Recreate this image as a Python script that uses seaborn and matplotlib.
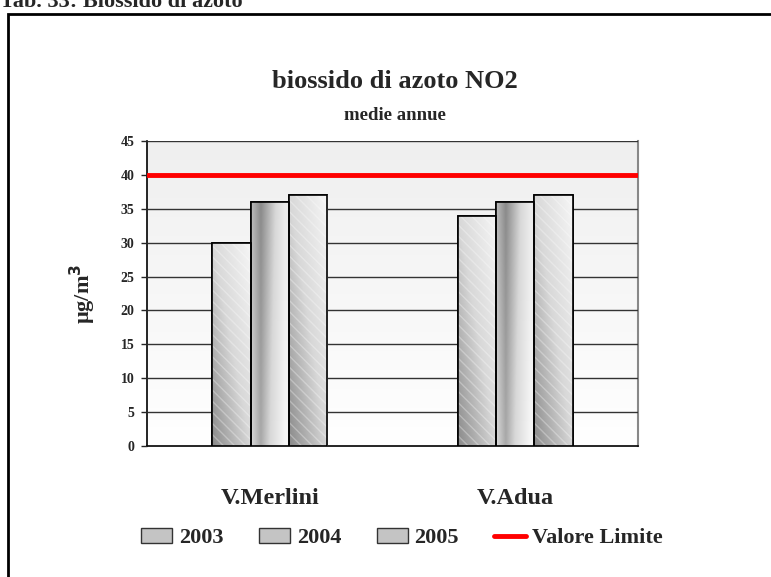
import matplotlib
matplotlib.use("Agg")
import matplotlib.pyplot as plt
from matplotlib.patches import Patch, Rectangle
from matplotlib.lines import Line2D
import numpy as np
import pandas as pd
import seaborn as sns

# Dati
stazioni = ["V.Merlini", "V.Adua"]
anni = ["2003", "2004", "2005"]
valori_2003 = [30, 34]
valori_2004 = [36, 36]
valori_2005 = [37, 37]
valore_limite = 40
yticks = list(range(0, 50, 5))

righe = []
for anno, valori in zip(anni, [valori_2003, valori_2004, valori_2005]):
    for stazione, v in zip(stazioni, valori):
        righe.append({"stazione": stazione, "anno": anno, "valore": v})
df = pd.DataFrame(righe)

sns.set_style("white")
plt.rcParams["font.family"] = ["Liberation Serif", "DejaVu Serif"]
plt.rcParams["font.weight"] = "bold"

fig = plt.figure(figsize=(7.71, 5.77), dpi=100)
ax = fig.add_axes([147 / 771, 1 - 446 / 577, 491 / 771, 305 / 577])

# sfondo sfumato dell'area del grafico
grad = np.linspace(0, 1, 256).reshape(-1, 1)
ax.imshow(grad, cmap=matplotlib.colors.LinearSegmentedColormap.from_list(
    "bg", ["#ffffff", "#efefef"]), extent=[-0.5, 1.5, 0, 45],
    aspect="auto", origin="lower", zorder=0)

sns.barplot(data=df, x="stazione", y="valore", hue="anno", order=stazioni,
            hue_order=anni, width=0.47, palette=["#c0c0c0"] * 3,
            edgecolor="black", linewidth=1.2, ax=ax, legend=False, zorder=3)

# sfumature delle barre
cmap_bar = matplotlib.colors.LinearSegmentedColormap.from_list(
    "bar", ["#8a8a8a", "#d8d8d8", "#f6f6f6"])
yy, xx = np.mgrid[0:1:100j, 0:1:100j]
sfumature = {
    0: (xx + (1 - yy)) / 2,
    1: np.clip(np.abs(xx - 0.25) * 1.6, 0, 1) * 0.8 + 0.2 * yy,
    2: (xx + (1 - yy)) / 2,
}
bars = [p for p in ax.patches if isinstance(p, Rectangle) and p.get_height() > 0]
for i, p in enumerate(bars):
    k = i // len(stazioni)
    x0, y0 = p.get_x(), p.get_y()
    w, h = p.get_width(), p.get_height()
    im = ax.imshow(sfumature[k], cmap=cmap_bar, extent=[x0, x0 + w, y0, y0 + h],
                   aspect="auto", origin="upper", zorder=3.5, vmin=0, vmax=1)
    im.set_clip_path(p)
    if k != 1:
        ax.add_patch(Rectangle((x0, y0), w, h, facecolor="none",
                               edgecolor="#ffffff", hatch="\\\\\\", lw=0,
                               alpha=0.3, zorder=3.6))
    ax.add_patch(Rectangle((x0, y0), w, h, facecolor="none",
                           edgecolor="black", lw=1.2, zorder=3.8))

ax.axhline(valore_limite, color="#ff0000", lw=3.5, zorder=4)

ax.set_xlim(-0.5, 1.5)
ax.set_ylim(0, 45)
ax.set_yticks(yticks)
ax.set_yticklabels([str(t) for t in yticks], fontsize=10, fontweight="bold")
ax.yaxis.grid(True, color="#333333", lw=1)
ax.set_axisbelow(False)
for l in ax.get_ygridlines():
    l.set_zorder(2)
ax.set_xticks([0, 1])
ax.set_xticklabels(stazioni, fontsize=17.5, fontweight="bold")
ax.set_xticks([-0.5, 0.5, 1.5], minor=True)
ax.tick_params(axis="x", which="major", length=0, pad=30)
ax.tick_params(axis="x", which="minor", length=5, direction="out", width=1)
ax.tick_params(axis="y", length=4, direction="out", width=1, pad=5, left=True)
ax.set_xlabel("")
ax.set_ylabel("µg/m$^\\mathbf{3}$", fontsize=16, fontweight="bold", labelpad=16)

for s in ["left", "bottom"]:
    ax.spines[s].set_color("black")
    ax.spines[s].set_linewidth(1.2)
ax.spines["top"].set_visible(False)
ax.spines["right"].set_color("#888888")
ax.spines["right"].set_linewidth(1.5)

# titoli
fig.text(395 / 771, 1 - 82 / 577, "biossido di azoto NO2", ha="center",
         va="center", fontsize=19, fontweight="bold")
fig.text(395 / 771, 1 - 116 / 577, "medie annue", ha="center", va="center",
         fontsize=13.5, fontweight="bold")
fig.text(0.0, 1 - 7 / 577, "Tab. 33: Biossido di azoto", ha="left",
         va="baseline", fontsize=16, fontweight="bold")

# cornice
fig.add_artist(Rectangle((8 / 771, -0.1), 1.2, 1 - 14 / 577 + 0.1,
                         transform=fig.transFigure, facecolor="none",
                         edgecolor="black", lw=2, clip_on=False))

# legenda
maniglie = [Patch(facecolor="#c4c4c4", edgecolor="#333333", label=a) for a in anni]
maniglie.append(Line2D([0], [0], color="#ff0000", lw=3.5, label="Valore Limite"))
fig.legend(handles=maniglie, loc="center", bbox_to_anchor=(402 / 771, 1 - 538 / 577),
           ncol=4, frameon=False, prop={"size": 16, "weight": "bold"},
           handlelength=1.4, handleheight=0.65, handletextpad=0.3,
           columnspacing=1.6)

fig.savefig("out.png", dpi=100)
